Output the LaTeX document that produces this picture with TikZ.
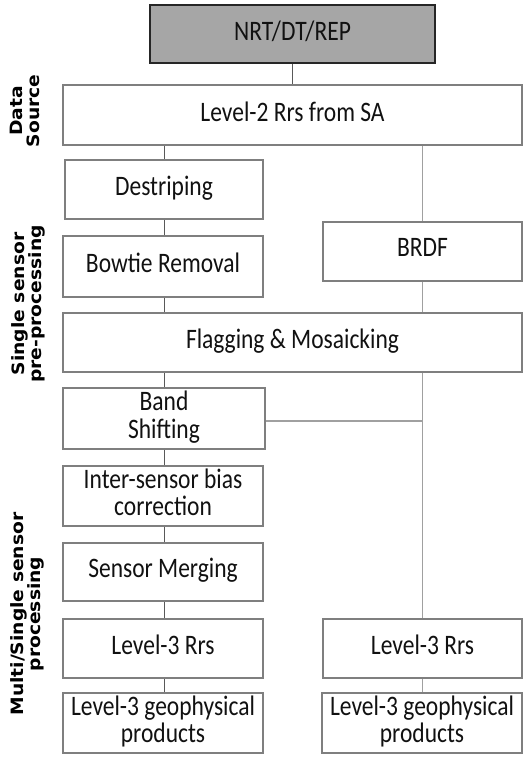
\documentclass[tikz,border=0pt]{standalone}
\usepackage{graphicx}
\usepackage{fontspec}
\setmainfont{Carlito}
\newfontfamily\labfont{DejaVu Sans}
\definecolor{boxgray}{HTML}{7F7F7F}
\definecolor{topfill}{HTML}{A6A6A6}
\definecolor{topline}{HTML}{262626}
\definecolor{darkline}{HTML}{595959}
\definecolor{lightline}{HTML}{A0A0A0}
\definecolor{txt}{HTML}{111111}
\newcommand\vtxt[1]{\raisebox{-1.5pt}{\scalebox{1}[1.2]{\begin{tabular}{@{}c@{}}#1\end{tabular}}}}
\newcommand\htxt[1]{\scalebox{1.1}[1]{\begin{tabular}{@{}c@{}}#1\end{tabular}}}
\begin{document}
\begin{tikzpicture}[x=1pt,y=-1pt,
  box/.style={draw=boxgray,line width=2.2pt,fill=white,inner sep=0pt,align=center,
    text=txt,font=\fontsize{23.5}{21}\selectfont},
  topbox/.style={box,draw=topline,line width=2.8pt,fill=topfill},
  side/.style={rotate=90,align=center,inner sep=0pt,text=black,
    font=\labfont\bfseries\fontsize{17}{16}\selectfont},
  conn/.style={draw=darkline,line width=1pt},
  connr/.style={draw=lightline,line width=1.2pt}]
\useasboundingbox (0,0) rectangle (528,757);
\node[topbox,minimum width=285pt,minimum height=58pt] (nrt) at (292.5,34) {\vtxt{NRT/DT/REP}};
\node[box,minimum width=459pt,minimum height=60pt] (l2) at (292.5,115) {\vtxt{Level-2 Rrs from SA}};
\node[box,minimum width=198pt,minimum height=59pt] (dest) at (164,189.5) {\vtxt{Destriping}};
\node[box,minimum width=200pt,minimum height=61pt] (bow) at (163,266.5) {\vtxt{Bowtie Removal}};
\node[box,minimum width=199pt,minimum height=59pt] (brdf) at (422.5,251.5) {\vtxt{BRDF}};
\node[box,minimum width=459pt,minimum height=59pt] (flag) at (292.5,342.5) {\vtxt{Flagging \& Mosaicking}};
\node[box,minimum width=202pt,minimum height=61pt] (band) at (164,418.5) {\vtxt{Band\\Shifting}};
\node[box,minimum width=200pt,minimum height=60pt] (inter) at (163,496) {\vtxt{Inter-sensor bias\\correction}};
\node[box,minimum width=200pt,minimum height=58pt] (merge) at (163,572) {\vtxt{Sensor Merging}};
\node[box,minimum width=200pt,minimum height=59pt] (l3l) at (163,648.5) {\vtxt{Level-3 Rrs}};
\node[box,minimum width=199pt,minimum height=59pt] (l3r) at (422.5,648.5) {\vtxt{Level-3 Rrs}};
\node[box,minimum width=200pt,minimum height=60pt] (geol) at (163,723) {\vtxt{Level-3 geophysical\\products}};
\node[box,minimum width=200pt,minimum height=60pt] (geor) at (422,723) {\vtxt{Level-3 geophysical\\products}};
% side labels
\node[side] (lds) at (27,111) {\htxt{Data\\Source}};
\node[side] (lss) at (29,304) {\htxt{Single sensor\\pre-processing}};
\node[side] (lms) at (28,614) {\htxt{Multi/Single sensor\\processing}};
% connectors (left chain)
\draw[conn] (nrt.south) -- (l2.north);
\draw[conn] (dest.north |- l2.south) -- (dest.north);
\draw[conn] (dest.south) -- (dest.south |- bow.north);
\draw[conn] (dest.south |- bow.south) -- (dest.south |- flag.north);
\draw[conn] (dest.south |- flag.south) -- (dest.south |- band.north);
\draw[conn] (dest.south |- band.south) -- (dest.south |- inter.north);
\draw[conn] (dest.south |- inter.south) -- (dest.south |- merge.north);
\draw[conn] (dest.south |- merge.south) -- (dest.south |- l3l.north);
\draw[conn] (dest.south |- l3l.south) -- (dest.south |- geol.north);
% right chain
\draw[connr] (brdf.north |- l2.south) -- (brdf.north);
\draw[connr] (brdf.south) -- (brdf.south |- flag.north);
\draw[connr] (l3r.north |- flag.south) -- (l3r.north);
\draw[connr] (band.east) ++(0,2.5) coordinate (bx) -- (bx -| l3r.north);
\draw[connr] (l3r.south) -- (l3r.south |- geor.north);
\end{tikzpicture}
\end{document}
